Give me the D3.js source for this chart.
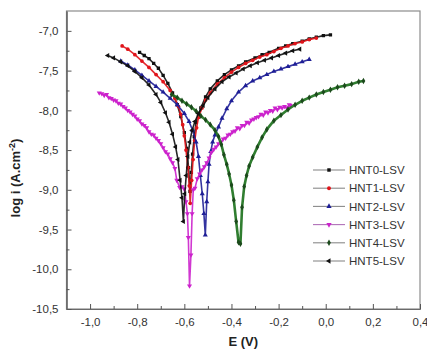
<!DOCTYPE html>
<html><head><meta charset="utf-8">
<script src="https://cdn.jsdelivr.net/npm/d3@7"></script>
<style>
body{margin:0;background:#fff}
svg{display:block}
text{font-family:"Liberation Sans",Arial,sans-serif}
</style>
</head><body>
<svg id="c" width="427" height="349"></svg>
<script>
// ---- data (E in V, log i) ----
const seriesNames = ["HNT0-LSV","HNT1-LSV","HNT2-LSV","HNT3-LSV","HNT4-LSV","HNT5-LSV"];
const xTicks = [-1.0,-0.8,-0.6,-0.4,-0.2,0.0,0.2,0.4];
const xMinor = [-0.9,-0.7,-0.5,-0.3,-0.1,0.1,0.3];
const yTicks = [-10.5,-10.0,-9.5,-9.0,-8.5,-8.0,-7.5,-7.0];
const yMinor = [-10.25,-9.75,-9.25,-8.75,-8.25,-7.75,-7.25];

const hnt0 = [[-0.79,-7.27],[-0.77,-7.31],[-0.75,-7.35],[-0.73,-7.41],[-0.71,-7.47],[-0.69,-7.56],[-0.67,-7.66],[-0.65,-7.78],[-0.63,-7.93],[-0.615,-8.08],[-0.60,-8.28],[-0.59,-8.48],[-0.582,-8.72],[-0.576,-9.02],[-0.57,-8.78],[-0.565,-8.55],[-0.558,-8.33],[-0.55,-8.15],[-0.54,-8.05],[-0.53,-7.97],[-0.51,-7.83],[-0.49,-7.73],[-0.46,-7.63],[-0.43,-7.55],[-0.40,-7.49],[-0.37,-7.44],[-0.34,-7.39],[-0.30,-7.34],[-0.27,-7.30],[-0.24,-7.27],[-0.20,-7.22],[-0.17,-7.19],[-0.14,-7.16],[-0.10,-7.13],[-0.07,-7.10],[-0.04,-7.08],[-0.01,-7.06],[0.02,-7.05]];
const hnt1 = [[-0.864,-7.19],[-0.84,-7.23],[-0.81,-7.30],[-0.78,-7.38],[-0.75,-7.46],[-0.72,-7.55],[-0.69,-7.64],[-0.66,-7.75],[-0.64,-7.85],[-0.625,-7.95],[-0.615,-8.05],[-0.607,-8.18],[-0.60,-8.32],[-0.593,-8.50],[-0.585,-8.72],[-0.579,-8.95],[-0.575,-9.17],[-0.569,-8.88],[-0.563,-8.62],[-0.556,-8.38],[-0.548,-8.22],[-0.54,-8.09],[-0.525,-7.97],[-0.51,-7.87],[-0.49,-7.78],[-0.46,-7.67],[-0.43,-7.59],[-0.40,-7.52],[-0.37,-7.46],[-0.34,-7.41],[-0.31,-7.37],[-0.28,-7.33],[-0.25,-7.30],[-0.22,-7.26],[-0.19,-7.22],[-0.16,-7.19],[-0.13,-7.16],[-0.10,-7.14],[-0.07,-7.11],[-0.04,-7.09]];
const hnt2 = [[-0.87,-7.38],[-0.84,-7.43],[-0.81,-7.49],[-0.78,-7.56],[-0.75,-7.63],[-0.72,-7.70],[-0.69,-7.77],[-0.66,-7.85],[-0.63,-7.93],[-0.60,-8.04],[-0.58,-8.14],[-0.565,-8.25],[-0.55,-8.40],[-0.54,-8.58],[-0.532,-8.82],[-0.524,-9.05],[-0.517,-9.30],[-0.511,-9.57],[-0.505,-9.15],[-0.50,-8.90],[-0.495,-8.68],[-0.488,-8.52],[-0.48,-8.40],[-0.47,-8.31],[-0.455,-8.21],[-0.44,-8.10],[-0.42,-7.98],[-0.40,-7.88],[-0.37,-7.77],[-0.34,-7.69],[-0.31,-7.63],[-0.28,-7.59],[-0.25,-7.55],[-0.22,-7.51],[-0.19,-7.48],[-0.16,-7.45],[-0.13,-7.42],[-0.10,-7.39],[-0.07,-7.36]];
const hnt3 = [[-0.961,-7.78],[-0.95,-7.79],[-0.94,-7.81],[-0.93,-7.80],[-0.92,-7.84],[-0.91,-7.85],[-0.90,-7.87],[-0.89,-7.88],[-0.88,-7.91],[-0.87,-7.92],[-0.86,-7.95],[-0.85,-7.97],[-0.84,-8.00],[-0.83,-8.02],[-0.82,-8.05],[-0.81,-8.07],[-0.80,-8.11],[-0.79,-8.13],[-0.78,-8.17],[-0.77,-8.19],[-0.76,-8.22],[-0.75,-8.27],[-0.74,-8.30],[-0.73,-8.31],[-0.72,-8.35],[-0.71,-8.38],[-0.70,-8.42],[-0.69,-8.47],[-0.68,-8.52],[-0.67,-8.55],[-0.66,-8.61],[-0.65,-8.66],[-0.64,-8.73],[-0.632,-8.88],[-0.62,-8.97],[-0.61,-8.96],[-0.60,-8.99],[-0.593,-9.15],[-0.587,-9.30],[-0.583,-9.60],[-0.578,-10.21],[-0.572,-9.82],[-0.567,-9.30],[-0.562,-9.00],[-0.555,-8.98],[-0.545,-8.86],[-0.535,-8.80],[-0.525,-8.75],[-0.515,-8.71],[-0.505,-8.66],[-0.495,-8.60],[-0.485,-8.53],[-0.475,-8.49],[-0.465,-8.46],[-0.455,-8.42],[-0.445,-8.40],[-0.435,-8.36],[-0.425,-8.35],[-0.415,-8.31],[-0.405,-8.30],[-0.395,-8.27],[-0.385,-8.26],[-0.375,-8.22],[-0.365,-8.23],[-0.355,-8.19],[-0.345,-8.19],[-0.335,-8.15],[-0.325,-8.16],[-0.315,-8.12],[-0.305,-8.11],[-0.295,-8.09],[-0.285,-8.08],[-0.275,-8.05],[-0.265,-8.06],[-0.255,-8.02],[-0.245,-8.03],[-0.235,-8.00],[-0.225,-8.01],[-0.215,-7.97],[-0.205,-7.99],[-0.195,-7.96],[-0.185,-7.97],[-0.175,-7.95],[-0.165,-7.97],[-0.155,-7.93],[-0.15,-7.94]];
const hnt4 = [[-0.654,-7.80],[-0.63,-7.84],[-0.61,-7.88],[-0.59,-7.92],[-0.57,-7.96],[-0.55,-8.01],[-0.53,-8.07],[-0.51,-8.12],[-0.49,-8.18],[-0.47,-8.25],[-0.455,-8.33],[-0.443,-8.43],[-0.432,-8.56],[-0.42,-8.68],[-0.41,-8.80],[-0.40,-8.94],[-0.39,-9.13],[-0.38,-9.40],[-0.37,-9.66],[-0.362,-9.68],[-0.355,-9.22],[-0.346,-8.96],[-0.336,-8.82],[-0.325,-8.70],[-0.31,-8.59],[-0.29,-8.46],[-0.27,-8.34],[-0.25,-8.24],[-0.22,-8.13],[-0.19,-8.06],[-0.16,-7.99],[-0.13,-7.93],[-0.10,-7.88],[-0.07,-7.84],[-0.04,-7.80],[-0.01,-7.77],[0.02,-7.74],[0.05,-7.71],[0.08,-7.69],[0.11,-7.67],[0.14,-7.64],[0.16,-7.63]];
const hnt5 = [[-0.925,-7.31],[-0.90,-7.34],[-0.87,-7.39],[-0.84,-7.44],[-0.81,-7.51],[-0.78,-7.59],[-0.75,-7.68],[-0.72,-7.80],[-0.70,-7.90],[-0.68,-8.03],[-0.665,-8.15],[-0.65,-8.30],[-0.637,-8.46],[-0.627,-8.62],[-0.618,-8.88],[-0.61,-9.10],[-0.604,-9.40],[-0.598,-9.05],[-0.592,-8.82],[-0.585,-8.58],[-0.577,-8.40],[-0.567,-8.25],[-0.555,-8.14],[-0.54,-8.04],[-0.52,-7.94],[-0.50,-7.84],[-0.47,-7.73],[-0.44,-7.64],[-0.41,-7.58],[-0.38,-7.53],[-0.35,-7.48],[-0.32,-7.44],[-0.29,-7.40],[-0.26,-7.37],[-0.23,-7.34],[-0.20,-7.31],[-0.17,-7.28],[-0.14,-7.25],[-0.11,-7.23]];

const seriesData = [hnt0,hnt1,hnt2,hnt3,hnt4,hnt5];
const styles = [
  {fill:"#111111", line:"#111111", leg:"#8a8a8a", sym:d3.symbolSquare, rot:0, size:11},
  {fill:"#e0141a", line:"#e0141a", leg:"#8a8a8a", sym:d3.symbolCircle, rot:0, size:11},
  {fill:"#1e1e96", line:"#1e1e96", leg:"#8a8a8a", sym:d3.symbolTriangle, rot:0, size:11},
  {fill:"#cc22cc", line:"#cc22cc", leg:"#b070b8", sym:d3.symbolTriangle, rot:180, size:11},
  {fill:"#1c4a1c", line:"#1a701a", leg:"#8a8a8a", sym:d3.symbolDiamond, rot:0, size:12},
  {fill:"#111111", line:"#111111", leg:"#8a8a8a", sym:d3.symbolTriangle, rot:-90, size:11}
];

const svg = d3.select("#c");
const L=66.5, R=420, T=11, B=309;
const x = d3.scaleLinear().domain([-1.1,0.4]).range([L,R]);
const y = d3.scaleLinear().domain([-10.5,-6.75]).range([B,T]);
const fmt = d => d.toFixed(1).replace(".",",");

// frame
svg.append("rect").attr("x",L).attr("y",T).attr("width",R-L).attr("height",B-T)
  .attr("fill","none").attr("stroke","#8c8c8c").attr("stroke-width",1.2);

// axes
const gx = svg.append("g").attr("transform",`translate(0,${B})`)
  .call(d3.axisBottom(x).tickValues(xTicks).tickFormat(fmt).tickSizeInner(-5).tickSizeOuter(0).tickPadding(9));
const gxm = svg.append("g").attr("transform",`translate(0,${B})`)
  .call(d3.axisBottom(x).tickValues(xMinor).tickFormat("").tickSizeInner(-3).tickSizeOuter(0));
const gy = svg.append("g").attr("transform",`translate(${L},0)`)
  .call(d3.axisLeft(y).tickValues(yTicks).tickFormat(fmt).tickSizeInner(-5).tickSizeOuter(0).tickPadding(8));
const gym = svg.append("g").attr("transform",`translate(${L},0)`)
  .call(d3.axisLeft(y).tickValues(yMinor).tickFormat("").tickSizeInner(-3).tickSizeOuter(0));
[gx,gxm,gy,gym].forEach(g=>{
  g.select(".domain").attr("stroke","#6a6a6a").attr("stroke-width",1.2);
  g.selectAll(".tick line").attr("stroke","#555").attr("stroke-width",1);
  g.selectAll(".tick text").attr("fill","#333").attr("font-size",11.5);
});

// series
const clip = svg.append("defs").append("clipPath").attr("id","pc")
  .append("rect").attr("x",L).attr("y",T).attr("width",R-L).attr("height",B-T);
const plot = svg.append("g").attr("clip-path","url(#pc)");
const line = d3.line().x(d=>x(d[0])).y(d=>y(d[1]));
seriesData.forEach((data,i)=>{
  const s = styles[i];
  const g = plot.append("g");
  g.append("path").datum(data).attr("d",line).attr("fill","none")
    .attr("stroke",s.line).attr("stroke-width", i===4?2.6:1.6).attr("stroke-opacity",0.9)
    .attr("stroke-linejoin","round");
  g.selectAll("path.m").data(data).join("path").attr("class","m")
    .attr("d",d3.symbol().type(s.sym).size(s.size))
    .attr("transform",d=>`translate(${x(d[0])},${y(d[1])}) rotate(${s.rot})`)
    .attr("fill",s.fill);
});

// legend
const legY0 = 170, legDy = 18.2;
seriesNames.forEach((name,i)=>{
  const s = styles[i];
  const yy = legY0 + i*legDy;
  svg.append("line").attr("x1",313).attr("x2",345).attr("y1",yy).attr("y2",yy)
    .attr("stroke",s.leg).attr("stroke-width",1.1);
  svg.append("path").attr("d",d3.symbol().type(s.sym).size(12))
    .attr("transform",`translate(329,${yy}) rotate(${s.rot})`).attr("fill",s.fill);
  svg.append("text").attr("x",349).attr("y",yy).attr("dy","0.36em")
    .attr("font-size",11.5).attr("fill","#333").text(name);
});

// axis titles
svg.append("text").attr("x",(L+R)/2).attr("y",346).attr("text-anchor","middle")
  .attr("font-size",13).attr("font-weight","bold").attr("fill","#222").text("E (V)");
const yt = svg.append("text").attr("transform","translate(20,178) rotate(-90)")
  .attr("text-anchor","middle").attr("font-size",13).attr("font-weight","bold").attr("fill","#222");
yt.append("tspan").text("log i (A.cm");
yt.append("tspan").attr("font-size",9).attr("dy",-5).text("-2");
yt.append("tspan").attr("dy",5).text(")");
</script>
</body></html>
